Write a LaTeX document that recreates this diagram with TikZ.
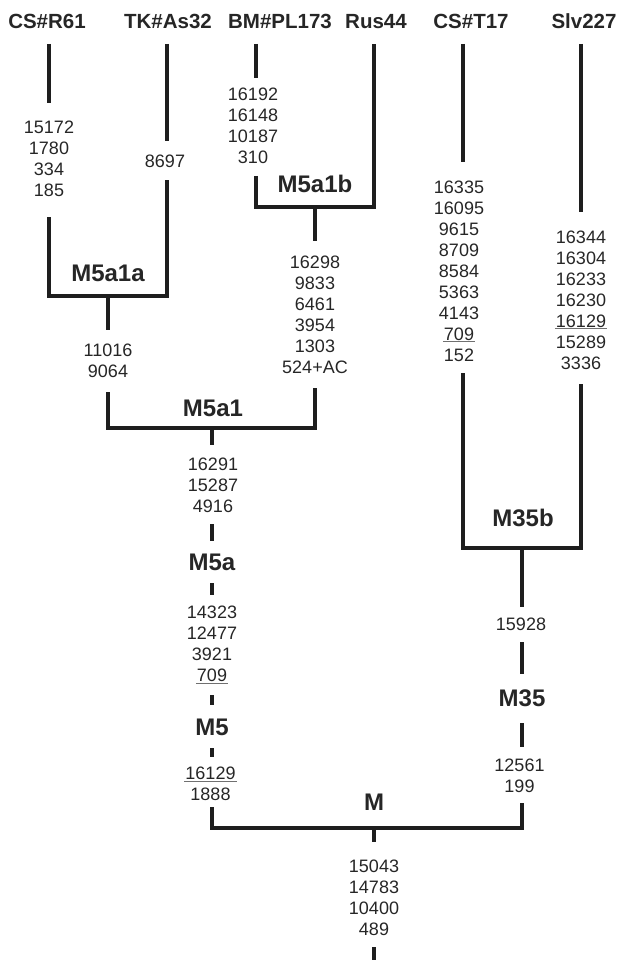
\documentclass[tikz,border=0pt]{standalone}
\usepackage{fontspec}
\setmainfont{Liberation Sans}
\definecolor{ink}{HTML}{1E1E1E}
\definecolor{txt}{HTML}{262626}
\definecolor{ulc}{HTML}{707070}
\newcommand\ulnum[1]{\setbox0\hbox{#1}\rlap{\smash{\kern-1pt\color{ulc}\rule[-2.2pt]{\dimexpr\wd0+2pt\relax}{0.9pt}}}\box0}
\begin{document}
\begin{tikzpicture}[x=1pt,y=-1pt,
  br/.style={line width=3.8pt, draw=ink, line join=miter},
  taxon/.style={anchor=base, inner sep=0, text=txt, font=\fontsize{20.5}{24}\selectfont\bfseries},
  clade/.style={anchor=base, inner sep=0, text=txt, font=\fontsize{24}{28}\selectfont\bfseries},
  muts/.style={align=center, inner sep=0, text=txt, font=\fontsize{18}{21}\selectfont}]
\useasboundingbox (0,0) rectangle (620,960);
% taxa
\node[taxon] (tR61) at (47,29) {CS\#R61};
\node[taxon] (tAs32) at (168,29) {TK\#As32};
\node[taxon] (tPL173) at (280,29) {BM\#PL173};
\node[taxon] (tRus44) at (376,29) {Rus44};
\node[taxon] (tT17) at (471,29) {CS\#T17};
\node[taxon] (tSlv) at (584,29) {Slv227};
% clade labels
\node[clade] (cM5a1a) at (108,281.5) {M5a1a};
\node[clade] (cM5a1) at (213,416.5) {M5a1};
\node[clade] (cM5a1b) at (315,193) {M5a1b};
\node[clade] (cM5a) at (212,570) {M5a};
\node[clade] (cM5) at (212,735) {M5};
\node[clade] (cM35b) at (523,526) {M35b};
\node[clade] (cM35) at (522,706.5) {M35};
\node[clade] (cM) at (374,810.5) {M};
% mutations
\node[muts] (nR61) at (49,158.5) {15172\\1780\\334\\185};
\node[muts] (nAs32) at (165,161) {8697};
\node[muts] (nPL173) at (253,125.5) {16192\\16148\\10187\\310};
\node[muts] (nA1b) at (315,314.5) {16298\\9833\\6461\\3954\\1303\\524+AC};
\node[muts] (nA1a) at (108,360.5) {11016\\9064};
\node[muts] (nT17) at (459,271) {16335\\16095\\9615\\8709\\8584\\5363\\4143\\\ulnum{709}\\152};
\node[muts] (nSlv) at (581,300) {16344\\16304\\16233\\16230\\\ulnum{16129}\\15289\\3336};
\node[muts] (nA1) at (213,485) {16291\\15287\\4916};
\node[muts] (nA) at (212,643.5) {14323\\12477\\3921\\\ulnum{709}};
\node[muts] (n5) at (210.5,784) {\ulnum{16129}\\1888};
\node[muts] (n35b) at (521,624) {15928};
\node[muts] (n35) at (519.5,775.5) {12561\\199};
\node[muts] (nM) at (374,897.5) {15043\\14783\\10400\\489};
% coordinates
\coordinate (r1) at (49,44); \coordinate (r2) at (49,103); \coordinate (r3) at (49,217);
\coordinate (s1) at (167,44); \coordinate (s2) at (167,141); \coordinate (s3) at (167,180);
\coordinate (jA1a) at (108,296); \coordinate (a1a1) at (108,330); \coordinate (a1a2) at (108,392);
\coordinate (p1) at (256,44); \coordinate (p2) at (256,78); \coordinate (p3) at (256,176);
\coordinate (u1) at (374,44);
\coordinate (jA1b) at (315,207); \coordinate (a1b1) at (315,241); \coordinate (a1b2) at (315,388);
\coordinate (jA1) at (212,428); \coordinate (a1) at (212,445); \coordinate (a2) at (212,524);
\coordinate (a3) at (212,541); \coordinate (a4) at (212,583); \coordinate (a5) at (212,595);
\coordinate (a6) at (212,695); \coordinate (a7) at (212,705); \coordinate (a8) at (212,748);
\coordinate (a9) at (212,757); \coordinate (a10) at (212,807);
\coordinate (t1) at (463,44); \coordinate (t2) at (463,162); \coordinate (t3) at (463,373);
\coordinate (v1) at (581,44); \coordinate (v2) at (581,212); \coordinate (v3) at (581,384);
\coordinate (j35b) at (522,548); \coordinate (b1) at (522,607); \coordinate (b2) at (522,642);
\coordinate (b3) at (522,674); \coordinate (b4) at (522,723); \coordinate (b5) at (522,747);
\coordinate (b6) at (522,803);
\coordinate (jM) at (374,828); \coordinate (m1) at (374,842); \coordinate (m2) at (374,947);
\coordinate (m3) at (374,960);
% branches
\draw[br] (r1) -- (r2);
\draw[br] (s1) -- (s2);
\draw[br] (r3) |- (jA1a) -| (s3);
\draw[br] (jA1a) -- (a1a1);
\draw[br] (p1) -- (p2);
\draw[br] (p3) |- (jA1b) -| (u1);
\draw[br] (jA1b) -- (a1b1);
\draw[br] (a1a2) |- (jA1) -| (a1b2);
\draw[br] (jA1) -- (a1);
\draw[br] (a2) -- (a3);
\draw[br] (a4) -- (a5);
\draw[br] (a6) -- (a7);
\draw[br] (a8) -- (a9);
\draw[br] (t1) -- (t2);
\draw[br] (v1) -- (v2);
\draw[br] (t3) |- (j35b) -| (v3);
\draw[br] (j35b) -- (b1);
\draw[br] (b2) -- (b3);
\draw[br] (b4) -- (b5);
\draw[br] (a10) |- (jM) -| (b6);
\draw[br] (jM) -- (m1);
\draw[br] (m2) -- (m3);
\end{tikzpicture}
\end{document}
